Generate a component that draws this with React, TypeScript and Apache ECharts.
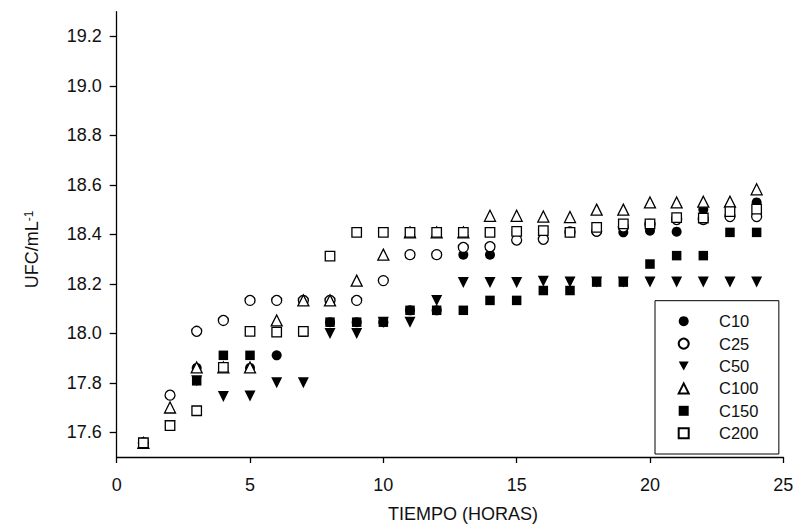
import React, { useEffect, useRef } from "react";
import * as echarts from "echarts";

const hours = [1, 2, 3, 4, 5, 6, 7, 8, 9, 10, 11, 12, 13, 14, 15, 16, 17, 18, 19, 20, 21, 22, 23, 24];

const c10 = [17.557, 17.627, 17.86, 17.86, 17.86, 17.911, 18.005, 18.045, 18.045, 18.045, 18.093, 18.093, 18.318, 18.318, 18.41, 18.41, 18.41, 18.41, 18.408, 18.415, 18.411, 18.5, 18.48, 18.529];
const c25 = [17.557, 17.75, 18.008, 18.052, 18.133, 18.133, 18.133, 18.133, 18.133, 18.213, 18.318, 18.318, 18.347, 18.35, 18.377, 18.38, 18.41, 18.413, 18.43, 18.44, 18.46, 18.46, 18.472, 18.472];
const c50 = [17.557, 17.627, 17.808, 17.745, 17.747, 17.8, 17.8, 17.999, 17.999, 18.045, 18.045, 18.133, 18.205, 18.205, 18.205, 18.21, 18.207, 18.207, 18.207, 18.207, 18.207, 18.207, 18.207, 18.207];
const c100 = [17.557, 17.7, 17.862, 17.862, 17.862, 18.052, 18.133, 18.133, 18.213, 18.318, 18.408, 18.408, 18.408, 18.475, 18.475, 18.472, 18.47, 18.5, 18.5, 18.529, 18.529, 18.532, 18.532, 18.582];
const c150 = [17.557, 17.627, 17.808, 17.911, 17.911, 18.005, 18.005, 18.045, 18.045, 18.045, 18.093, 18.093, 18.093, 18.133, 18.133, 18.173, 18.173, 18.207, 18.207, 18.28, 18.314, 18.314, 18.408, 18.408];
const c200 = [17.557, 17.627, 17.687, 17.862, 18.008, 18.005, 18.008, 18.312, 18.408, 18.408, 18.408, 18.408, 18.408, 18.408, 18.412, 18.415, 18.408, 18.428, 18.442, 18.442, 18.468, 18.466, 18.492, 18.502];

const yTicks = [17.6, 17.8, 18.0, 18.2, 18.4, 18.6, 18.8, 19.0, 19.2];
const seriesNames = ["C10", "C25", "C50", "C100", "C150", "C200"];

const FONT = "Liberation Sans, Arial, sans-serif";
const TRI_DOWN = "path://M0,0 L10,0 L5,9 Z";

export default function App() {
  const ref = useRef<HTMLDivElement>(null);
  useEffect(() => {
    document.body.style.margin = "0";
    const chart = echarts.init(ref.current!, null, { renderer: "svg" });
    const pts = (arr: number[]) => hours.map((h, i) => [h, arr[i]]);
    const filled = { color: "#000", opacity: 1 };
    const open = { color: "#fff", borderColor: "#000", borderWidth: 1.3, opacity: 1 };
    const mk = (name: string, arr: number[], symbol: string, size: number, style: any, rotate = 0) => ({
      name,
      type: "scatter",
      data: pts(arr),
      symbol,
      symbolSize: size,
      symbolRotate: rotate,
      itemStyle: style,
      emphasis: { disabled: true },
    });
    chart.setOption({
      animation: false,
      textStyle: { fontFamily: FONT },
      grid: { left: 116.7, right: 12.7, top: 11.7, bottom: 70, outerBoundsMode: "none", containLabel: false },
      xAxis: {
        type: "value",
        min: 0,
        max: 25,
        interval: 5,
        name: "TIEMPO (HORAS)",
        nameLocation: "middle",
        nameGap: 48,
        nameTextStyle: { fontSize: 18, lineHeight: 18, color: "#111", fontFamily: FONT, padding: [0, 0, 0, 26] },
        axisLine: { lineStyle: { color: "#000", width: 1.3 } },
        axisTick: { length: 6, lineStyle: { color: "#000", width: 1.3 } },
        axisLabel: { fontSize: 18, color: "#111", margin: 19, fontFamily: FONT },
        splitLine: { show: false },
      },
      yAxis: {
        type: "value",
        min: 17.5,
        max: 19.3,
        name: "{a|UFC/mL}{b|-1}",
        nameLocation: "middle",
        nameGap: 76,
        nameRotate: 90,
        nameTextStyle: {
          fontFamily: FONT,
          color: "#111",
          padding: [0, 30, 0, 0],
          rich: {
            a: { fontSize: 18, lineHeight: 18, color: "#111", fontFamily: FONT },
            b: { fontSize: 12, lineHeight: 12, verticalAlign: "top", color: "#111", fontFamily: FONT },
          },
        },
        axisLine: { show: true, lineStyle: { color: "#000", width: 1.3 } },
        axisTick: { show: true, length: 7, customValues: yTicks, lineStyle: { color: "#000", width: 1.3 } },
        axisLabel: {
          fontSize: 18,
          color: "#111",
          margin: 15,
          fontFamily: FONT,
          customValues: yTicks,
          formatter: (v: number) => v.toFixed(1),
        },
        splitLine: { show: false },
      },
      legend: {
        data: [
          { name: "C10" },
          { name: "C25" },
          { name: "C50", icon: TRI_DOWN },
          { name: "C100" },
          { name: "C150" },
          { name: "C200" },
        ],
        orient: "vertical",
        left: 655,
        top: 300.7,
        padding: [12, 20.4, 12.3, 22.7],
        itemWidth: 10,
        itemHeight: 10,
        itemGap: 5.4,
        borderColor: "#000",
        borderWidth: 1,
        backgroundColor: "#fff",
        selectedMode: false,
        textStyle: { fontSize: 16.5, lineHeight: 16, color: "#111", fontFamily: FONT, padding: [0, 0, 0, 25.3] },
      },
      series: [
        mk("C10", c10, "circle", 10, filled),
        mk("C25", c25, "circle", 10, open),
        mk("C50", c50, "triangle", 11, filled, 180),
        mk("C100", c100, "triangle", 11, open),
        mk("C150", c150, "rect", 9.5, filled),
        mk("C200", c200, "rect", 9.5, open),
      ],
    });
    return () => chart.dispose();
  }, []);
  return <div ref={ref} style={{ position: "absolute", left: 0, top: 0, width: 796, height: 527 }} />;
}
